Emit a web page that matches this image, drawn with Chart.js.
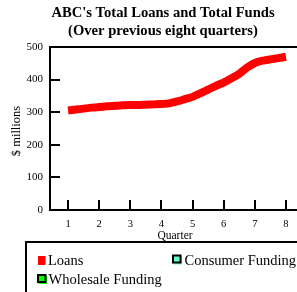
<!DOCTYPE html>
<html>
<head>
<meta charset="utf-8">
<script src="https://cdn.jsdelivr.net/npm/chart.js@4.4.1/dist/chart.umd.min.js"></script>
<style>
  html, body { margin: 0; padding: 0; background: #fff; overflow: hidden; }
  #wrap { width: 297px; height: 292px; overflow: hidden; position: relative; }
  #c { position: absolute; left: 0; top: 0; }
</style>
</head>
<body>
<div id="wrap"><canvas id="c" width="320" height="292"></canvas></div>
<script>
// ---- data ----
const titleLines = ["ABC's Total Loans and Total Funds", "(Over previous eight quarters)"];
const quarterTicks = [1, 2, 3, 4, 5, 6, 7, 8];
const valueTicks = [0, 100, 200, 300, 400, 500];
const loanQuarter = [1, 1.25, 1.5, 1.75, 2, 2.25, 2.5, 2.75, 3, 3.25, 3.5, 3.75, 4, 4.25, 4.5, 4.75, 5, 5.25, 5.5, 5.75, 6, 6.25, 6.5, 6.75, 7, 7.25, 7.5, 7.75, 8];
const loanValues  = [305, 308, 311, 314, 316, 318, 320, 321, 322, 322, 323, 324, 325, 327, 333, 340, 347, 358, 369, 381, 391, 404, 418, 437, 451, 458, 462, 466, 470];
const consumerValues = [];
const wholesaleValues = [];
const seriesNames = ["Loans", "Consumer Funding", "Wholesale Funding"];
const seriesColors = ["#ff0000", "#66ffcc", "#00ff00"];

const SERIF = "'Liberation Serif', 'Times New Roman', serif";

const decor = {
  id: 'decor',
  afterDraw(chart) {
    const ctx = chart.ctx;
    const a = chart.chartArea;
    const xs = chart.scales.x, ys = chart.scales.y;
    ctx.save();
    // frame: left, top, bottom
    ctx.strokeStyle = '#000';
    ctx.lineWidth = 2;
    ctx.beginPath();
    ctx.moveTo(a.right + 5, a.top); ctx.lineTo(a.left, a.top); ctx.lineTo(a.left, a.bottom); ctx.lineTo(a.right + 5, a.bottom);
    ctx.stroke();
    // y tick marks (inward)
    ctx.beginPath();
    valueTicks.forEach(v => {
      if (v === ys.min || v === ys.max) return;
      const y = Math.round(ys.getPixelForValue(v));
      ctx.moveTo(a.left, y); ctx.lineTo(a.left + 10, y);
    });
    // x tick marks (upward)
    quarterTicks.forEach(q => {
      const x = Math.round(xs.getPixelForValue(q));
      ctx.moveTo(x, a.bottom); ctx.lineTo(x, a.bottom - 10);
    });
    ctx.stroke();

    // title
    ctx.fillStyle = '#000';
    ctx.textAlign = 'center';
    ctx.textBaseline = 'alphabetic';
    ctx.font = "bold 14.6px " + SERIF;
    ctx.fillText(titleLines[0], 163, 17);
    ctx.fillText(titleLines[1], 163, 35);

    // axis titles
    ctx.font = "11.5px " + SERIF;
    ctx.textBaseline = 'middle';
    ctx.fillText('Quarter', (a.left + a.right) / 2, 236);
    ctx.save();
    ctx.translate(17, 131);
    ctx.rotate(-Math.PI / 2);
    ctx.font = "12.5px " + SERIF;
    ctx.fillText('$ millions', 0, 0);
    ctx.restore();

    // legend box
    ctx.fillStyle = '#fff';
    ctx.fillRect(26, 242, 300, 60);
    ctx.lineWidth = 2;
    ctx.strokeStyle = '#000';
    ctx.beginPath();
    ctx.moveTo(26, 300); ctx.lineTo(26, 242); ctx.lineTo(330, 242);
    ctx.stroke();

    const ds = chart.data.datasets;
    ctx.font = "14.5px " + SERIF;
    ctx.textAlign = 'left';
    ctx.textBaseline = 'alphabetic';
    // Loans
    ctx.fillStyle = ds[0].borderColor;
    ctx.fillRect(38, 256, 7.5, 9);
    ctx.fillStyle = '#000';
    ctx.fillText(ds[0].label, 48, 264.5);
    // Consumer Funding
    ctx.fillStyle = ds[1].borderColor;
    ctx.fillRect(173.5, 256, 8.5, 8.5);
    ctx.strokeStyle = '#000';
    ctx.lineWidth = 2;
    ctx.strokeRect(173, 255.5, 7.5, 7);
    ctx.fillStyle = '#000';
    ctx.fillText(ds[1].label, 184.5, 264.5);
    // Wholesale Funding
    ctx.fillStyle = ds[2].borderColor;
    ctx.fillRect(38.5, 275.5, 8.5, 8.5);
    ctx.strokeRect(38, 275, 7.5, 7);
    ctx.fillStyle = '#000';
    ctx.fillText(ds[2].label, 48.5, 283.5);
    ctx.restore();
  }
};

new Chart(document.getElementById('c'), {
  type: 'line',
  data: {
    datasets: [
      { label: seriesNames[0], data: loanQuarter.map((q, i) => ({ x: q, y: loanValues[i] })),
        borderColor: seriesColors[0], backgroundColor: seriesColors[0], borderWidth: 8,
        pointRadius: 0, tension: 0.2, borderCapStyle: 'butt' },
      { label: seriesNames[1], data: consumerValues, borderColor: seriesColors[1], backgroundColor: seriesColors[1] },
      { label: seriesNames[2], data: wholesaleValues, borderColor: seriesColors[2], backgroundColor: seriesColors[2] }
    ]
  },
  options: {
    responsive: false,
    animation: false,
    devicePixelRatio: 1,
    layout: { padding: { left: 0, right: 20, top: 47, bottom: 0 } },
    plugins: { legend: { display: false }, tooltip: { enabled: false } },
    scales: {
      x: {
        type: 'linear', min: 0.42, max: 8.45,
        afterBuildTicks: s => { s.ticks = quarterTicks.map(v => ({ value: v })); },
        afterFit: s => { s.height = 82; },
        grid: { display: false, drawTicks: false },
        border: { display: false },
        ticks: { padding: 8, color: '#000', font: { family: SERIF, size: 10.5 }, maxRotation: 0 }
      },
      y: {
        min: 0, max: 500,
        afterBuildTicks: s => { s.ticks = valueTicks.map(v => ({ value: v })); },
        afterFit: s => { s.width = 50; },
        grid: { display: false, drawTicks: false },
        border: { display: false },
        ticks: { padding: 7, color: '#000', font: { family: SERIF, size: 11 } }
      }
    }
  },
  plugins: [decor]
});
</script>
</body>
</html>
